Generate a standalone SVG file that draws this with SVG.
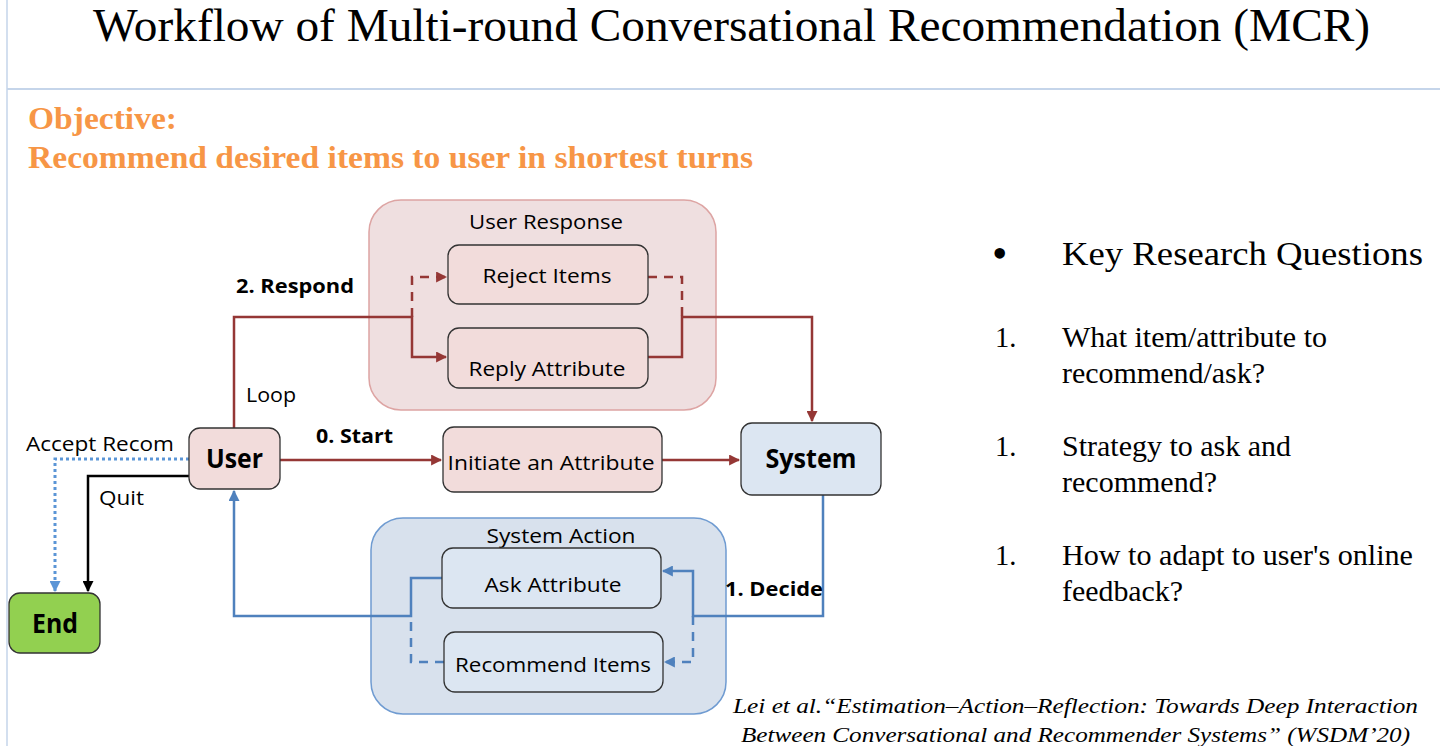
<svg xmlns="http://www.w3.org/2000/svg" width="1440" height="746" viewBox="0 0 1440 746">
<style>
.serif{font-family:"Liberation Serif","Times New Roman",serif;}
.sans{font-family:"Open Sans","Liberation Sans",Arial,sans-serif;fill:#000;}
.lbl{font-size:20px;}
.bold{font-weight:bold;}
.node{stroke:#333;stroke-width:1.3;}
.pink{fill:#f2dcdb;}
.blue{fill:#dce6f2;}
.red{stroke:#953735;stroke-width:2.5;fill:none;}
.bl{stroke:#4f81bd;stroke-width:2.5;fill:none;}
.dash{stroke-dasharray:9,7;}
.q{font-size:28.5px;}
.orange{fill:#f79646;font-weight:bold;font-size:31px;}
</style>
<defs>
<marker id="ar" viewBox="0 0 10 10" refX="9" refY="5" markerWidth="11" markerHeight="11" markerUnits="userSpaceOnUse" orient="auto"><path d="M0,0 L10,5 L0,10 z" fill="#953735"/></marker>
<marker id="ab" viewBox="0 0 10 10" refX="9" refY="5" markerWidth="11" markerHeight="11" markerUnits="userSpaceOnUse" orient="auto"><path d="M0,0 L10,5 L0,10 z" fill="#4f81bd"/></marker>
<marker id="abl" viewBox="0 0 10 10" refX="9" refY="5" markerWidth="11" markerHeight="11" markerUnits="userSpaceOnUse" orient="auto"><path d="M0,0 L10,5 L0,10 z" fill="#5b95d6"/></marker>
<marker id="ak" viewBox="0 0 10 10" refX="9" refY="5" markerWidth="11" markerHeight="11" markerUnits="userSpaceOnUse" orient="auto"><path d="M0,0 L10,5 L0,10 z" fill="#000"/></marker>
</defs>
<rect width="1440" height="746" fill="#fff"/>
<line x1="7" y1="0" x2="7" y2="746" stroke="#c5d5ea" stroke-width="1.5"/>
<line x1="7" y1="89" x2="1440" y2="89" stroke="#c5d5ea" stroke-width="2"/>

<g id="title">
<text class="serif" x="93" y="41" font-size="46" textLength="1277" lengthAdjust="spacingAndGlyphs">Workflow of Multi-round  Conversational Recommendation (MCR)</text>
</g>
<g id="objective">
<text class="serif orange" x="28" y="129" textLength="149" lengthAdjust="spacingAndGlyphs">Objective:</text>
<text class="serif orange" x="28" y="168" textLength="725" lengthAdjust="spacingAndGlyphs">Recommend desired items to user in shortest turns</text>
</g>

<g id="user-response">
<rect x="369" y="200" width="347" height="210" rx="32" fill="#efdfe0" stroke="#dda4a3" stroke-width="1.5"/>
<text class="sans lbl" x="546" y="229" text-anchor="middle" textLength="154" lengthAdjust="spacingAndGlyphs">User Response</text>
</g>
<g id="system-action">
<rect x="371" y="518" width="355" height="196" rx="32" fill="#d8e1ed" stroke="#6f9bd1" stroke-width="1.5"/>
<text class="sans lbl" x="561" y="543" text-anchor="middle" textLength="149" lengthAdjust="spacingAndGlyphs">System Action</text>
</g>

<g id="connectors">
<path class="red" d="M234,428 V317 H412 V357 H446" marker-end="url(#ar)"/>
<path class="red dash" d="M412,317 V277 H446" marker-end="url(#ar)"/>
<path class="red dash" d="M648,277 H682 V317"/>
<path class="red" d="M648,357 H682 V317 H812 V421" marker-end="url(#ar)"/>
<path class="red" d="M280,460 H441" marker-end="url(#ar)"/>
<path class="red" d="M662,460 H739" marker-end="url(#ar)"/>
<path class="bl" d="M823,495 V616 H693 V571 H663" marker-end="url(#ab)"/>
<path class="bl dash" d="M693,616 V662 H665" marker-end="url(#ab)"/>
<path class="bl" d="M442,578 H411 V616 H234 V491" marker-end="url(#ab)"/>
<path class="bl dash" d="M444,662 H411 V616"/>
<path d="M189,459 H55 V591" fill="none" stroke="#5b95d6" stroke-width="3" stroke-dasharray="3,3" marker-end="url(#abl)"/>
<path d="M189,476 H88 V591" fill="none" stroke="#000" stroke-width="2.5" marker-end="url(#ak)"/>
</g>

<g id="reject-items">
<rect class="node pink" x="448" y="245" width="200" height="59" rx="11"/>
<text class="sans lbl" x="547" y="283" text-anchor="middle" textLength="129" lengthAdjust="spacingAndGlyphs">Reject Items</text>
</g>
<g id="reply-attribute">
<rect class="node pink" x="448" y="328" width="200" height="60" rx="11"/>
<text class="sans lbl" x="547" y="376" text-anchor="middle" textLength="157" lengthAdjust="spacingAndGlyphs">Reply Attribute</text>
</g>
<g id="user">
<rect class="node pink" x="189" y="428" width="91" height="61" rx="11"/>
<text class="sans bold" x="234.5" y="468" font-size="26" text-anchor="middle" textLength="57" lengthAdjust="spacingAndGlyphs">User</text>
</g>
<g id="initiate">
<rect class="node pink" x="443" y="427" width="219" height="65" rx="11"/>
<text class="sans lbl" x="551" y="470" text-anchor="middle" textLength="207" lengthAdjust="spacingAndGlyphs">Initiate an Attribute</text>
</g>
<g id="system">
<rect class="node blue" x="741" y="423" width="140" height="72" rx="11"/>
<text class="sans bold" x="811" y="468" font-size="26" text-anchor="middle" textLength="91" lengthAdjust="spacingAndGlyphs">System</text>
</g>
<g id="end">
<rect class="node" x="9" y="593" width="91" height="60" rx="11" fill="#92d050"/>
<text class="sans bold" x="55" y="633" font-size="26" text-anchor="middle" textLength="46" lengthAdjust="spacingAndGlyphs">End</text>
</g>
<g id="ask-attribute">
<rect class="node blue" x="442" y="548" width="219" height="60" rx="11"/>
<text class="sans lbl" x="553" y="592" text-anchor="middle" textLength="137" lengthAdjust="spacingAndGlyphs">Ask Attribute</text>
</g>
<g id="recommend-items">
<rect class="node blue" x="444" y="632" width="219" height="60" rx="11"/>
<text class="sans lbl" x="553" y="672" text-anchor="middle" textLength="196" lengthAdjust="spacingAndGlyphs">Recommend Items</text>
</g>

<g id="edge-labels">
<text class="sans bold lbl" x="236" y="293" textLength="118" lengthAdjust="spacingAndGlyphs">2. Respond</text>
<text class="sans lbl" x="246" y="402" textLength="50" lengthAdjust="spacingAndGlyphs">Loop</text>
<text class="sans bold lbl" x="316" y="443" textLength="77" lengthAdjust="spacingAndGlyphs">0. Start</text>
<text class="sans lbl" x="26" y="451" textLength="148" lengthAdjust="spacingAndGlyphs">Accept Recom</text>
<text class="sans lbl" x="99" y="505" textLength="45" lengthAdjust="spacingAndGlyphs">Quit</text>
<text class="sans bold lbl" x="725" y="596" textLength="98" lengthAdjust="spacingAndGlyphs">1. Decide</text>
</g>

<g id="questions" class="serif">
<text x="992" y="268" font-size="44">•</text>
<text x="1062" y="265" font-size="33" textLength="361" lengthAdjust="spacingAndGlyphs">Key Research Questions</text>
<text class="q" x="995" y="347">1.</text>
<text class="q" x="1062" y="347" textLength="265" lengthAdjust="spacingAndGlyphs">What item/attribute to</text>
<text class="q" x="1062" y="383" textLength="203" lengthAdjust="spacingAndGlyphs">recommend/ask?</text>
<text class="q" x="995" y="456">1.</text>
<text class="q" x="1062" y="456" textLength="229" lengthAdjust="spacingAndGlyphs">Strategy to ask and</text>
<text class="q" x="1062" y="492" textLength="155" lengthAdjust="spacingAndGlyphs">recommend?</text>
<text class="q" x="995" y="565">1.</text>
<text class="q" x="1062" y="565" textLength="351" lengthAdjust="spacingAndGlyphs">How to adapt to user's online</text>
<text class="q" x="1062" y="601" textLength="121" lengthAdjust="spacingAndGlyphs">feedback?</text>
</g>

<g id="citation" class="serif" font-style="italic" font-size="22">
<text x="733" y="713" textLength="685" lengthAdjust="spacingAndGlyphs">Lei et al.“Estimation–Action–Reflection: Towards Deep Interaction</text>
<text x="741" y="742" textLength="669" lengthAdjust="spacingAndGlyphs">Between Conversational and Recommender Systems” (WSDM’20)</text>
</g>
</svg>
